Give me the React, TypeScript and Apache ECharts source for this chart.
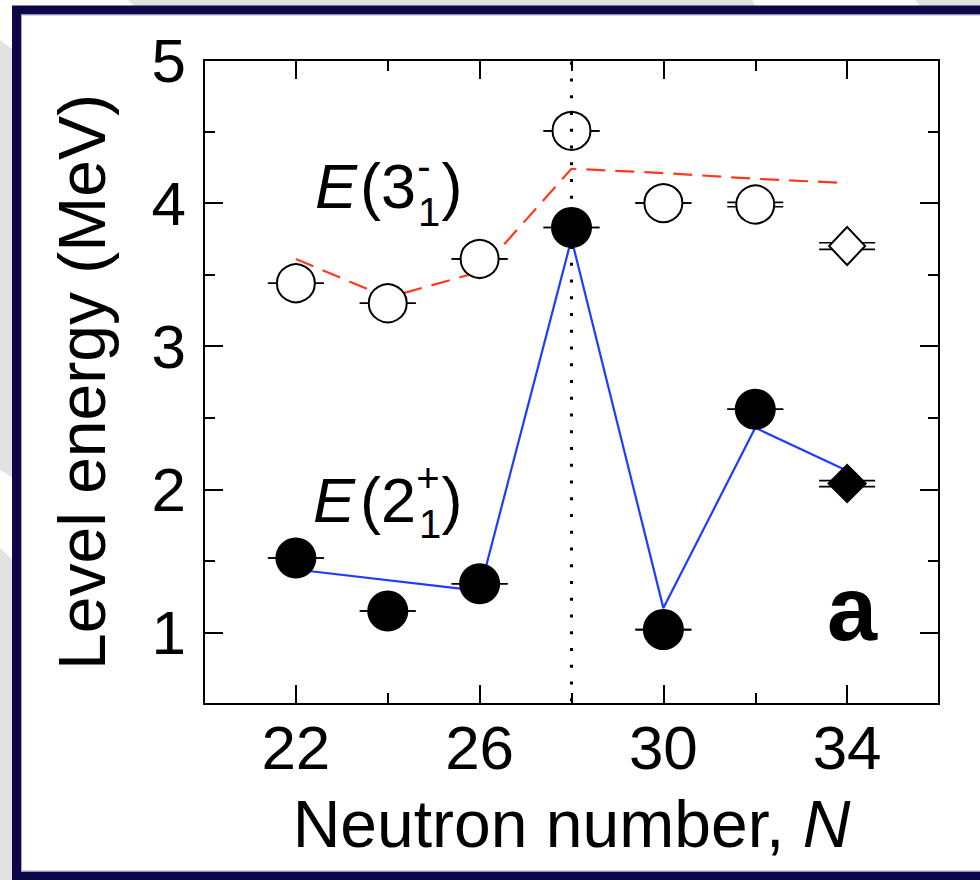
import React, { useEffect, useRef } from 'react';
import * as echarts from 'echarts';

// ---- axis ticks ----
const xMin = 20;
const xMax = 36;
const yMin = 0.5;
const yMax = 5;
const xMajor = [22, 26, 30, 34];
const xMinor = [24, 28, 32];
const yMajor = [1, 2, 3, 4, 5];
const yMinor = [1.5, 2.5, 3.5, 4.5];

// ---- measured levels ----
const nCircles = [22, 24, 26, 28, 30, 32];
const e3Open = [3.44, 3.3, 3.61, 4.505, 4.0, 3.99];
const e3OpenErr = [0, 0, 0, 0, 0, 0.015];
const e2Filled = [1.52, 1.15, 1.34, 3.83, 1.02, 2.56];
const e2FilledErr = [0, 0, 0, 0, 0, 0];
const nDiamond = [34];
const e3Diamond = [3.7];
const e3DiamondErr = [0.023];
const e2Diamond = [2.04];
const e2DiamondErr = [0.021];

// ---- calculations ----
const calcN3 = [22, 24, 26, 28, 30, 32, 34];
const calcE3 = [3.61, 3.34, 3.52, 4.24, 4.21, 4.17, 4.14];
const calcN2 = [22, 26, 28, 30, 32, 34];
const calcE2 = [1.44, 1.29, 3.75, 1.17, 2.43, 2.13];

const magicN = 28;

const FONT = '"Liberation Sans", Arial, Helvetica, sans-serif';

const pairs = (xs: number[], ys: number[]) => xs.map((x, i) => [x, ys[i]]);
const triples = (xs: number[], ys: number[], es: number[]) => xs.map((x, i) => [x, ys[i], es[i]]);

export default function App() {
  const ref = useRef<HTMLDivElement>(null);

  useEffect(() => {
    if (!ref.current) return;
    const chart = echarts.init(ref.current, null, { renderer: 'svg' });

    const lineStyle = { color: '#000', width: 2 };
    const gridRect = { left: 204, top: 60, width: 735, height: 644 };

    const xBase = (gridIndex: number, position: string) => ({
      type: 'value',
      gridIndex,
      position,
      min: xMin,
      max: xMax,
      splitLine: { show: false },
    });
    const yBase = (gridIndex: number, position: string) => ({
      type: 'value',
      gridIndex,
      position,
      min: yMin,
      max: yMax,
      splitLine: { show: false },
    });

    const errRender = (params: any, api: any) => {
      const x = api.value(0);
      const v = api.value(1);
      const e = api.value(2);
      const lo = api.coord([x, v - e]);
      const hi = api.coord([x, v + e]);
      const w = 28;
      const style = { stroke: '#000', lineWidth: 1.6, fill: 'none' };
      return {
        type: 'group',
        children: [
          { type: 'line', shape: { x1: lo[0] - w, y1: lo[1], x2: lo[0] + w, y2: lo[1] }, style },
          { type: 'line', shape: { x1: hi[0] - w, y1: hi[1], x2: hi[0] + w, y2: hi[1] }, style },
          { type: 'line', shape: { x1: lo[0], y1: lo[1], x2: hi[0], y2: hi[1] }, style },
        ],
      };
    };

    const errData = [
      ...triples(nCircles, e3Open, e3OpenErr),
      ...triples(nCircles, e2Filled, e2FilledErr),
      ...triples(nDiamond, e3Diamond, e3DiamondErr),
      ...triples(nDiamond, e2Diamond, e2DiamondErr),
    ];

    const option: any = {
      animation: false,
      backgroundColor: '#ffffff',
      grid: [
        { ...gridRect, containLabel: false },
        { ...gridRect, containLabel: false },
      ],
      xAxis: [
        {
          ...xBase(0, 'bottom'),
          axisLine: { show: true, onZero: false, lineStyle },
          axisTick: { show: true, inside: true, length: 19, customValues: xMajor, lineStyle },
          axisLabel: { show: true, customValues: xMajor, fontSize: 62, fontFamily: FONT, color: '#000', margin: 12 },
          name: '{a|Neutron number, }{b|N}',
          nameLocation: 'middle',
          nameGap: 87,
          nameTextStyle: {
            fontSize: 66,
            fontFamily: FONT,
            color: '#000',
            rich: {
              a: { fontSize: 66, fontFamily: FONT, color: '#000' },
              b: { fontSize: 66, fontFamily: FONT, color: '#000', fontStyle: 'italic' },
            },
          },
        },
        {
          ...xBase(0, 'top'),
          axisLine: { show: true, onZero: false, lineStyle },
          axisTick: { show: true, inside: true, length: 19, customValues: xMajor, lineStyle },
          axisLabel: { show: false },
        },
        {
          ...xBase(1, 'bottom'),
          axisLine: { show: false, onZero: false },
          axisTick: { show: true, inside: true, length: 11, customValues: xMinor, lineStyle },
          axisLabel: { show: false },
        },
        {
          ...xBase(1, 'top'),
          axisLine: { show: false, onZero: false },
          axisTick: { show: true, inside: true, length: 11, customValues: xMinor, lineStyle },
          axisLabel: { show: false },
        },
      ],
      yAxis: [
        {
          ...yBase(0, 'left'),
          axisLine: { show: true, onZero: false, lineStyle },
          axisTick: { show: true, inside: true, length: 19, customValues: yMajor, lineStyle },
          axisLabel: { show: true, customValues: yMajor, fontSize: 62, fontFamily: FONT, color: '#000', margin: 18 },
          name: 'Level energy (MeV)',
          nameLocation: 'middle',
          nameRotate: 90,
          nameGap: 89,
          nameTextStyle: { fontSize: 66, fontFamily: FONT, color: '#000' },
        },
        {
          ...yBase(0, 'right'),
          axisLine: { show: true, onZero: false, lineStyle },
          axisTick: { show: true, inside: true, length: 19, customValues: yMajor, lineStyle },
          axisLabel: { show: false },
        },
        {
          ...yBase(1, 'left'),
          axisLine: { show: false, onZero: false },
          axisTick: { show: true, inside: true, length: 11, customValues: yMinor, lineStyle },
          axisLabel: { show: false },
        },
        {
          ...yBase(1, 'right'),
          axisLine: { show: false, onZero: false },
          axisTick: { show: true, inside: true, length: 11, customValues: yMinor, lineStyle },
          axisLabel: { show: false },
        },
      ],
      series: [
        {
          name: 'calc 3-',
          type: 'line',
          xAxisIndex: 0,
          yAxisIndex: 0,
          data: pairs(calcN3, calcE3),
          symbol: 'none',
          lineStyle: { color: '#ff3a1c', width: 2.2, type: [19, 10] },
          z: 2,
        },
        {
          name: 'calc 2+',
          type: 'line',
          xAxisIndex: 0,
          yAxisIndex: 0,
          data: pairs(calcN2, calcE2),
          symbol: 'none',
          lineStyle: { color: '#1d3cff', width: 2.2 },
          z: 2,
        },
        {
          name: 'errors',
          type: 'custom',
          xAxisIndex: 0,
          yAxisIndex: 0,
          data: errData,
          encode: { x: 0, y: 1 },
          renderItem: errRender,
          z: 3,
        },
        {
          name: 'E(3-) circles',
          type: 'scatter',
          xAxisIndex: 0,
          yAxisIndex: 0,
          data: pairs(nCircles, e3Open),
          symbol: 'circle',
          symbolSize: 38,
          itemStyle: { color: '#fff', borderColor: '#000', borderWidth: 2, opacity: 1 },
          z: 4,
        },
        {
          name: 'E(3-) diamond',
          type: 'scatter',
          xAxisIndex: 0,
          yAxisIndex: 0,
          data: pairs(nDiamond, e3Diamond),
          symbol: 'diamond',
          symbolSize: [36, 38],
          itemStyle: { color: '#fff', borderColor: '#000', borderWidth: 2, opacity: 1 },
          z: 4,
        },
        {
          name: 'E(2+) circles',
          type: 'scatter',
          xAxisIndex: 0,
          yAxisIndex: 0,
          data: pairs(nCircles, e2Filled),
          symbol: 'circle',
          symbolSize: 41,
          itemStyle: { color: '#000', opacity: 1 },
          z: 4,
        },
        {
          name: 'E(2+) diamond',
          type: 'scatter',
          xAxisIndex: 0,
          yAxisIndex: 0,
          data: pairs(nDiamond, e2Diamond),
          symbol: 'diamond',
          symbolSize: 40,
          itemStyle: { color: '#000', opacity: 1 },
          z: 4,
        },
        {
          name: 'N = 28',
          type: 'line',
          xAxisIndex: 0,
          yAxisIndex: 0,
          data: [
            [magicN, yMax],
            [magicN, yMin],
          ],
          symbol: 'none',
          lineStyle: { color: '#000', width: 3, type: [3, 13.75], dashOffset: 14.5, cap: 'butt' },
          z: 5,
        },
      ],
      graphic: [
        // background wedges outside the frame
        { type: 'polygon', z: -10, shape: { points: [[128, 0], [752, 0], [756, 6], [134, 6]] }, style: { fill: '#e2e2e2' } },
        { type: 'polygon', z: -10, shape: { points: [[915, 0], [980, 0], [980, 6], [920, 6]] }, style: { fill: '#e2e2e2' } },
        { type: 'polygon', z: -10, shape: { points: [[0, 40], [13, 50], [13, 478], [0, 470]] }, style: { fill: '#e2e2e2' } },
        { type: 'polygon', z: -10, shape: { points: [[0, 548], [13, 560], [13, 880], [0, 880]] }, style: { fill: '#e2e2e2' } },
        // frame
        { type: 'rect', z: -5, shape: { x: 16.5, y: 10, width: 1000, height: 866 }, style: { fill: '#ffffff', stroke: '#0b0748', lineWidth: 9 } },
        { type: 'rect', z: -4, shape: { x: 21.5, y: 15, width: 1000, height: 856 }, style: { fill: 'none', stroke: '#a9a4d4', lineWidth: 1 } },
        // E(3-1)
        { type: 'text', z: 10, x: 315, y: 186, style: { text: 'E', font: `italic 63px ${FONT}`, fill: '#000', align: 'left', verticalAlign: 'middle' } },
        { type: 'text', z: 10, x: 360, y: 186, style: { text: '(3', font: `63px ${FONT}`, fill: '#000', align: 'left', verticalAlign: 'middle' } },
        { type: 'text', z: 10, x: 424, y: 166, style: { text: '-', font: `40px ${FONT}`, fill: '#000', align: 'center', verticalAlign: 'middle' } },
        { type: 'text', z: 10, x: 429, y: 212, style: { text: '1', font: `40px ${FONT}`, fill: '#000', align: 'center', verticalAlign: 'middle' } },
        { type: 'text', z: 10, x: 452, y: 186, style: { text: ')', font: `63px ${FONT}`, fill: '#000', align: 'center', verticalAlign: 'middle' } },
        // E(2+1)
        { type: 'text', z: 10, x: 313, y: 500, style: { text: 'E', font: `italic 63px ${FONT}`, fill: '#000', align: 'left', verticalAlign: 'middle' } },
        { type: 'text', z: 10, x: 360, y: 500, style: { text: '(2', font: `63px ${FONT}`, fill: '#000', align: 'left', verticalAlign: 'middle' } },
        { type: 'text', z: 10, x: 428, y: 478, style: { text: '+', font: `40px ${FONT}`, fill: '#000', align: 'center', verticalAlign: 'middle' } },
        { type: 'text', z: 10, x: 430, y: 524, style: { text: '1', font: `40px ${FONT}`, fill: '#000', align: 'center', verticalAlign: 'middle' } },
        { type: 'text', z: 10, x: 452, y: 500, style: { text: ')', font: `63px ${FONT}`, fill: '#000', align: 'center', verticalAlign: 'middle' } },
        // panel label
        { type: 'text', z: 10, x: 852, y: 609, style: { text: 'a', font: `bold 90px ${FONT}`, fill: '#000', align: 'center', verticalAlign: 'middle' } },
      ],
    };

    chart.setOption(option);
    return () => chart.dispose();
  }, []);

  return (
    <div
      ref={ref}
      style={{ position: 'fixed', left: 0, top: 0, width: 980, height: 880, background: '#fff' }}
    />
  );
}
